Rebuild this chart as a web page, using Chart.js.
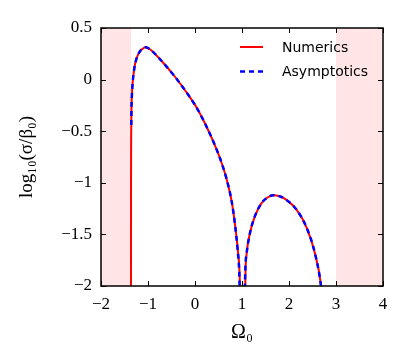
<!DOCTYPE html>
<html>
<head>
<meta charset="utf-8">
<script src="https://cdn.jsdelivr.net/npm/chart.js@4.4.1/dist/chart.umd.min.js"></script>
<style>
html,body{margin:0;padding:0;background:#fff;}
canvas{display:block;}
</style>
</head>
<body>
<canvas id="c" width="407" height="349"></canvas>
<script>
// ---- data ----
const numX = [-1.362,-1.361,-1.358,-1.352,-1.345,-1.33,-1.29,-1.24,-1.17,-1.11,-1.05,-0.98,-0.92,-0.71,-0.43,-0.14,0.0,0.1,0.213,0.39,0.53,0.67,0.78,0.85,0.908,0.95,0.965,
              null,
              1.062,1.075,1.10,1.17,1.277,1.42,1.55,1.667,1.80,1.915,2.16,2.377,2.55,2.68,2.70];
const numY = [-2.2,-1.0,-0.55,-0.30,-0.18,-0.05,0.113,0.21,0.275,0.30,0.313,0.30,0.28,0.18,0.03,-0.15,-0.245,-0.325,-0.425,-0.60,-0.76,-0.96,-1.18,-1.40,-1.64,-1.90,-2.2,
              null,
              -2.2,-1.85,-1.68,-1.486,-1.32,-1.195,-1.14,-1.12,-1.13,-1.156,-1.26,-1.437,-1.68,-1.99,-2.1];
const asyX = [-1.355,-1.352,-1.345,-1.33,-1.29,-1.24,-1.17,-1.11,-1.05,-0.98,-0.92,-0.71,-0.43,-0.14,0.0,0.1,0.213,0.39,0.53,0.67,0.78,0.85,0.905,0.945,0.958,
              null,
              1.055,1.07,1.10,1.17,1.277,1.42,1.55,1.667,1.80,1.915,2.16,2.377,2.55,2.68,2.70];
const asyY = [-0.44,-0.30,-0.18,-0.05,0.113,0.21,0.275,0.30,0.313,0.30,0.28,0.18,0.03,-0.15,-0.245,-0.325,-0.425,-0.60,-0.76,-0.96,-1.18,-1.40,-1.64,-1.92,-2.2,
              null,
              -2.2,-1.85,-1.68,-1.486,-1.32,-1.195,-1.14,-1.12,-1.13,-1.156,-1.26,-1.437,-1.68,-2.0,-2.1];
const shadeLeft = [-2, -1.362];
const shadeRight = [3, 4];
const xTicks = [-2,-1,0,1,2,3,4];
const yTicks = [-2,-1.5,-1,-0.5,0,0.5];
const seriesNames = ['Numerics','Asymptotics'];

const toPts = (xs, ys) => xs.map((x,i) => ({x: x === null ? NaN : x, y: ys[i] === null ? NaN : ys[i]}));
const fmt = v => String(v).replace('-', '\u2212');

const frameTicks = {
  id: 'frameTicks',
  afterDatasetsDraw(chart) {
    const {ctx, chartArea: a, scales: {x, y}} = chart;
    ctx.save();
    ctx.strokeStyle = '#000';
    ctx.lineWidth = 1;
    const L = 5;
    ctx.beginPath();
    xTicks.forEach(v => {
      const px = Math.round(x.getPixelForValue(v)) + 0.5;
      ctx.moveTo(px, a.bottom); ctx.lineTo(px, a.bottom - L);
      ctx.moveTo(px, a.top); ctx.lineTo(px, a.top + L);
    });
    yTicks.forEach(v => {
      const py = Math.round(y.getPixelForValue(v)) + 0.5;
      ctx.moveTo(a.left, py); ctx.lineTo(a.left + L, py);
      ctx.moveTo(a.right, py); ctx.lineTo(a.right - L, py);
    });
    ctx.stroke();
    ctx.lineWidth = 1.5;
    ctx.strokeRect(a.left, a.top, a.right - a.left, a.bottom - a.top);
    // legend
    const ds = chart.data.datasets.filter(d => seriesNames.includes(d.label));
    ds.forEach((d, i) => {
      const yy = a.top + 19 + i * 24.5;
      const x0 = a.left + 139, x1 = a.left + 162;
      ctx.beginPath();
      ctx.strokeStyle = d.borderColor;
      ctx.lineWidth = d.borderWidth;
      ctx.setLineDash(d.borderDash || []);
      ctx.moveTo(x0, yy); ctx.lineTo(x1, yy);
      ctx.stroke();
      ctx.setLineDash([]);
      ctx.fillStyle = '#000';
      ctx.font = '14px "DejaVu Sans"';
      ctx.textBaseline = 'middle';
      ctx.textAlign = 'left';
      ctx.fillText(d.label, a.left + 181, yy + 1);
    });
    ctx.restore();
  }
};

new Chart(document.getElementById('c'), {
  type: 'line',
  data: {
    datasets: [
      {label: 'shadeL', data: [{x: shadeLeft[0], y: 0.5}, {x: shadeLeft[1], y: 0.5}], fill: 'start',
       backgroundColor: 'rgba(255,0,0,0.1)', borderWidth: 0, pointRadius: 0, order: 10},
      {label: 'shadeR', data: [{x: shadeRight[0], y: 0.5}, {x: shadeRight[1], y: 0.5}], fill: 'start',
       backgroundColor: 'rgba(255,0,0,0.1)', borderWidth: 0, pointRadius: 0, order: 10},
      {label: seriesNames[0], data: toPts(numX, numY), borderColor: '#ff0000', borderWidth: 2,
       pointRadius: 0, fill: false, cubicInterpolationMode: 'monotone', spanGaps: false, order: 2},
      {label: seriesNames[1], data: toPts(asyX, asyY), borderColor: '#0000ff', borderWidth: 2.5,
       borderDash: [5, 4], pointRadius: 0, fill: false, cubicInterpolationMode: 'monotone', spanGaps: false, order: 1}
    ]
  },
  options: {
    responsive: false,
    animation: false,
    layout: {padding: {top: 28, right: 24, left: 0, bottom: 0}},
    plugins: {legend: {display: false}, tooltip: {enabled: false}},
    scales: {
      x: {
        type: 'linear', min: -2, max: 4,
        afterFit: s => { s.height = 63; },
        afterBuildTicks: s => { s.ticks = xTicks.map(v => ({value: v})); },
        grid: {display: false, drawTicks: false},
        border: {display: false},
        ticks: {autoSkip: false, maxRotation: 0, padding: 8, color: '#000',
                font: {family: '"Liberation Serif", serif', size: 17}, callback: v => fmt(v)},
        title: {display: true, text: 'Ω₀', color: '#000',
                font: {family: '"Liberation Serif", serif', size: 20}, padding: {top: 0, bottom: 4}}
      },
      y: {
        type: 'linear', min: -2, max: 0.5,
        afterFit: s => { s.width = 101; },
        afterBuildTicks: s => { s.ticks = yTicks.map(v => ({value: v})); },
        grid: {display: false, drawTicks: false},
        border: {display: false},
        ticks: {autoSkip: false, padding: 9, color: '#000',
                font: {family: '"Liberation Serif", serif', size: 17}, callback: v => fmt(v)},
        title: {display: true, text: 'log₁₀(σ/β₀)', color: '#000',
                font: {family: '"Liberation Serif", serif', size: 19}, padding: {top: 16, bottom: 0}}
      }
    }
  },
  plugins: [frameTicks]
});
</script>
</body>
</html>
